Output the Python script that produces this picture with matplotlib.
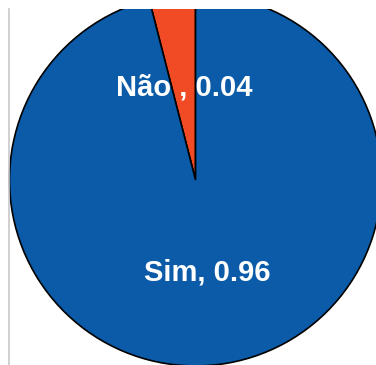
import numpy as np
import matplotlib
matplotlib.use("Agg")
import matplotlib.pyplot as plt
from matplotlib.lines import Line2D

labels = ["Não ", "Sim"]
values = [0.04, 0.96]
colors = ["#F04B24", "#0B5BA8"]

plt.rcParams['font.family'] = ['Liberation Sans', 'DejaVu Sans']

fig = plt.figure(figsize=(3.76, 3.65), dpi=100)
fig.patch.set_facecolor("white")

# pie is bigger than the frame, the frame crops it
ax = fig.add_axes([0, 0, 1, 356 / 365])
wedges, _ = ax.pie(values, colors=colors, startangle=90, counterclock=True,
                   wedgeprops=dict(edgecolor="black", linewidth=1.2))
for w in wedges:
    w.set_clip_on(True)
ax.set_xlim(-1.051, 0.970)
ax.set_ylim(-0.995, 0.919)
ax.set_aspect("auto")
ax.axis("off")

for w, lab, v in zip(wedges, labels, values):
    mid = np.deg2rad((w.theta1 + w.theta2) / 2)
    ax.text(0.5 * np.cos(mid), 0.5 * np.sin(mid), f"{lab}, {v:.2f}",
            color="white", fontsize=21, fontweight="bold",
            ha="center", va="center")

# thin grey rule on the left side
fig.add_artist(Line2D([8.5 / 376, 8.5 / 376], [0, 356 / 365],
                      color="#c8c8c8", linewidth=1.2))

fig.savefig("out.png", dpi=100)
